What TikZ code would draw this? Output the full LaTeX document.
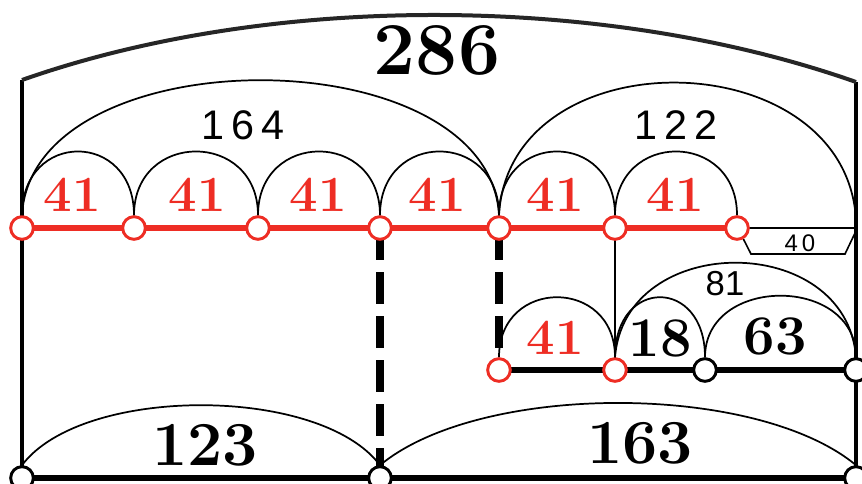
\documentclass[tikz,border=0pt]{standalone}
\usepackage{fontspec}
\usetikzlibrary{backgrounds}
\newfontfamily\labfont{Liberation Sans}
\definecolor{myred}{RGB}{238,45,36}
\begin{document}
\begin{tikzpicture}[x=0.75pt,y=-0.75pt,
  rdot/.style={circle,draw=myred,fill=white,line width=2.2pt,minimum size=17pt,inner sep=0pt},
  bdot/.style={circle,draw=black,fill=white,line width=2.2pt,minimum size=17pt,inner sep=0pt},
  arch/.style={line width=1.3pt,black},
  thickbar/.style={line width=5pt,black},
  sidebar/.style={line width=3.5pt,black},
  redbar/.style={line width=5pt,myred},
  dashbar/.style={line width=6pt,black,dash pattern=on 24pt off 9pt},
  thinbar/.style={line width=1.2pt,black},
  bignum/.style={font=\fontsize{47}{50}\selectfont\bfseries},
  midnum/.style={font=\fontsize{42}{46}\selectfont\bfseries},
  rednum/.style={font=\fontsize{38}{42}\selectfont\bfseries,text=myred},
  thinnum/.style={font=\labfont\fontsize{31}{34}\selectfont},
  smallnum/.style={font=\labfont\fontsize{26}{28}\selectfont},
  tinynum/.style={font=\labfont\fontsize{18}{20}\selectfont},
]
\useasboundingbox (0,0) rectangle (862,484);

% circles (nodes)
\node[rdot] (t0) at (22,228) {};
\node[rdot] (t1) at (134,228) {};
\node[rdot] (t2) at (258,228) {};
\node[rdot] (t3) at (380,228) {};
\node[rdot] (t4) at (499,228) {};
\node[rdot] (t5) at (615,228) {};
\node[rdot] (t6) at (737,228) {};
\node[rdot] (m0) at (499,370) {};
\node[rdot] (m1) at (615,370) {};
\node[bdot] (m2) at (705,370) {};
\node[bdot] (m3) at (856,370) {};
\node[bdot] (b0) at (22,478) {};
\node[bdot] (b1) at (380,478) {};
\node[bdot] (b2) at (856,478) {};
\coordinate (tl) at (22,80);
\coordinate (tr) at (856,82);
\coordinate (rt) at (856,228);
\coordinate (rr) at (856,220);
\coordinate (k1) at (751,254);
\coordinate (k2) at (845,254);
\coordinate (k3) at (855,233);

\begin{pgfonlayer}{background}
  \draw[sidebar] (tl) -- (b0.center);
  \draw[sidebar] (tr) -- (b2.center);
  \draw[line width=3pt,black!85] (tl) .. controls +(250,-88) and +(-250,-88) .. (tr);
  \draw[redbar] (t0.center) -- (t6.center);
  \draw[thinbar] (t6.center) -- (rt);
  \draw[thinbar] (t6.-60) -- (k1) -- (k2) -- (k3);
  \draw[dashbar] (t3.center) -- (b1.center);
  \draw[dashbar] (t4.center) -- (m0.center);
  \draw[thinbar] (t5.center) -- (m1.center);
  \draw[thickbar] (m0.center) -- (m3.center);
  \draw[thickbar] (b0.center) -- (b2.center);
\end{pgfonlayer}

% small arches on top row
\draw[arch] (t0.north) .. controls +(0,-85) and +(0,-85) .. (t1.north);
\draw[arch] (t1.north) .. controls +(0,-85) and +(0,-85) .. (t2.north);
\draw[arch] (t2.north) .. controls +(0,-85) and +(0,-85) .. (t3.north);
\draw[arch] (t3.north) .. controls +(0,-85) and +(0,-85) .. (t4.north);
\draw[arch] (t4.north) .. controls +(0,-85) and +(0,-85) .. (t5.north);
\draw[arch] (t5.north) .. controls +(0,-85) and +(0,-85) .. (t6.north);
% big arches
\draw[arch] (t0.north) .. controls +(10,-180) and +(-10,-180) .. (t4.north);
\draw[arch] (t4.north) .. controls +(10,-180) and +(-10,-180) .. (rr);
% middle row arches
\draw[arch] (m0.north) .. controls +(0,-80) and +(0,-80) .. (m1.north);
\draw[arch] (m1.north) .. controls +(0,-80) and +(0,-80) .. (m2.north);
\draw[arch] (m2.north) .. controls +(0,-82) and +(0,-82) .. (m3.north);
\draw[arch] (m1.north) .. controls +(10,-126) and +(-10,-126) .. (m3.north);
% bottom arches
\draw[arch] (b0.north) .. controls +(60,-80) and +(-60,-80) .. (b1.north);
\draw[arch] (b1.north) .. controls +(100,-83) and +(-100,-83) .. (b2.north);

% labels
\node[font=\fontsize{56}{60}\selectfont\bfseries] (l286) at (437,50) {286};
\node[thinnum] (l164) at (243,125) {1\hspace{5pt}6\hspace{5pt}4};
\node[thinnum] (l122) at (676,125) {1\hspace{5pt}2\hspace{5pt}2};
\node[rednum] (r1) at (72,195) {41};
\node[rednum] (r2) at (197,195) {41};
\node[rednum] (r3) at (318,195) {41};
\node[rednum] (r4) at (437,195) {41};
\node[rednum] (r5) at (555,195) {41};
\node[rednum] (r6) at (675,195) {41};
\node[tinynum] (l40) at (800,243) {4\hspace{3pt}0};
\node[smallnum] (l81) at (725,284) {81};
\node[rednum] (r7) at (555,338) {41};
\node[midnum] (l18) at (660,338) {18};
\node[midnum] (l63) at (775,336) {63};
\node[bignum] (l123) at (205,445) {123};
\node[bignum] (l163) at (640,443) {163};
\end{tikzpicture}
\end{document}
